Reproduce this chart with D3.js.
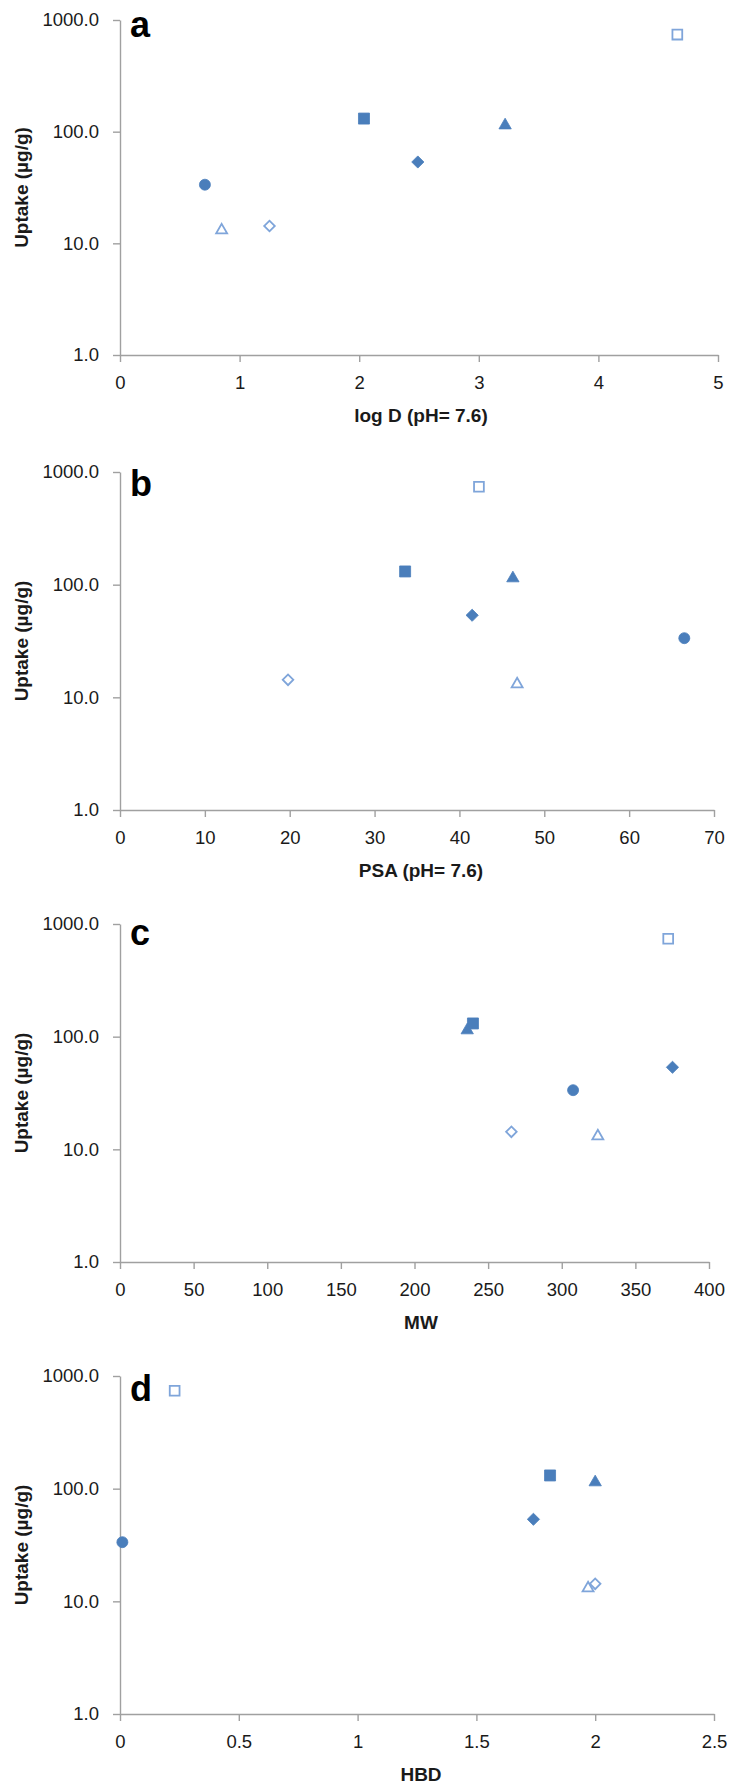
<!DOCTYPE html>
<html>
<head>
<meta charset="utf-8">
<script src="https://cdn.jsdelivr.net/npm/d3@7"></script>
<style>
  html, body { margin: 0; padding: 0; background: #ffffff; }
  svg { display: block; }
</style>
</head>
<body>
<script>
// ---------------- DATA ----------------
const compounds = ["circle", "openTriangle", "openDiamond", "filledSquare", "filledDiamond", "filledTriangle", "openSquare"];
const uptake = [33.5, 13.1, 14.3, 131, 53.5, 114, 740];
const logD   = [0.71, 0.85, 1.25, 2.04, 2.49, 3.22, 4.66];
const psa    = [66.5, 46.8, 19.8, 33.6, 41.5, 46.3, 42.3];
const mw     = [307.7, 324.5, 265.8, 239.7, 375.2, 235.8, 372.3];
const hbd    = [0.01, 1.97, 2.0, 1.81, 1.74, 2.0, 0.23];

const panelLetters = ["a", "b", "c", "d"];
const xTitles = ["log D (pH= 7.6)", "PSA (pH= 7.6)", "MW", "HBD"];
const xDomains = [[0, 5], [0, 70], [0, 400], [0, 2.5]];
const xTickValues = [
  [0, 1, 2, 3, 4, 5],
  [0, 10, 20, 30, 40, 50, 60, 70],
  [0, 50, 100, 150, 200, 250, 300, 350, 400],
  [0, 0.5, 1, 1.5, 2, 2.5]
];
const yTickValues = [1, 10, 100, 1000];
const yTitle = "Uptake (\u00b5g/g)";
const xSeries = [logD, psa, mw, hbd];

// ---------------- LAYOUT ----------------
const W = 741, H = 1786;
const layout = [
  { top: 20,  bottom: 355,  left: 120, right: 718, labelDy: 17 },
  { top: 472, bottom: 810,  left: 120, right: 714, labelDy: 24 },
  { top: 924, bottom: 1262, left: 120, right: 709, labelDy: 21 },
  { top: 1376, bottom: 1714, left: 120, right: 714, labelDy: 25 }
];
const filledColor = "#4a7ebb";
const openColor = "#7fa5da";
const axisColor = "#a0a0a0";
const textColor = "#1a1a1a";

const svg = d3.select("body").append("svg")
  .attr("width", W).attr("height", H)
  .attr("viewBox", `0 0 ${W} ${H}`);

const markerDef = {
  circle:         { type: d3.symbolCircle,   size: 95,  filled: true,  rot: 0 },
  filledSquare:   { type: d3.symbolSquare,   size: 121, filled: true,  rot: 0 },
  filledDiamond:  { type: d3.symbolSquare,   size: 74,  filled: true,  rot: 45 },
  filledTriangle: { type: d3.symbolTriangle, size: 66,  filled: true,  rot: 0 },
  openSquare:     { type: d3.symbolSquare,   size: 96,  filled: false, rot: 0 },
  openDiamond:    { type: d3.symbolSquare,   size: 56,  filled: false, rot: 45 },
  openTriangle:   { type: d3.symbolTriangle, size: 52,  filled: false, rot: 0 }
};

layout.forEach((L, i) => {
  const g = svg.append("g");
  const x = d3.scaleLinear().domain(xDomains[i]).range([L.left, L.right]);
  const y = d3.scaleLog().domain([1, 1000]).range([L.bottom, L.top]);

  // y axis
  const yAxis = d3.axisLeft(y).tickValues(yTickValues)
    .tickFormat(d3.format(".1f")).tickSizeInner(7).tickSizeOuter(0).tickPadding(14);
  const gy = g.append("g").attr("transform", `translate(${L.left},0)`).call(yAxis);
  gy.select(".domain").attr("stroke", axisColor).attr("stroke-width", 1.4);
  gy.selectAll(".tick line").attr("stroke", axisColor).attr("stroke-width", 1.4);
  gy.selectAll(".tick text")
    .attr("fill", textColor)
    .style("font-family", "'Liberation Sans', Arial, sans-serif")
    .style("font-size", "18.5px");

  // x axis
  const xAxis = d3.axisBottom(x).tickValues(xTickValues[i])
    .tickFormat(d3.format("~g")).tickSizeInner(7).tickSizeOuter(0).tickPadding(14);
  const gx = g.append("g").attr("transform", `translate(0,${L.bottom})`).call(xAxis);
  gx.select(".domain").attr("stroke", axisColor).attr("stroke-width", 1.4);
  gx.selectAll(".tick line").attr("stroke", axisColor).attr("stroke-width", 1.4);
  gx.selectAll(".tick text")
    .attr("fill", textColor)
    .style("font-family", "'Liberation Sans', Arial, sans-serif")
    .style("font-size", "18.5px");

  // y title
  g.append("text")
    .attr("transform", `translate(28,${(L.top + L.bottom) / 2}) rotate(-90)`)
    .attr("text-anchor", "middle")
    .attr("fill", textColor)
    .style("font-family", "'Liberation Sans', Arial, sans-serif")
    .style("font-weight", "bold")
    .style("font-size", "19px")
    .text(yTitle);

  // x title
  g.append("text")
    .attr("x", 421).attr("y", L.bottom + 67)
    .attr("text-anchor", "middle")
    .attr("fill", textColor)
    .style("font-family", "'Liberation Sans', Arial, sans-serif")
    .style("font-weight", "bold")
    .style("font-size", "19px")
    .text(xTitles[i]);

  // panel letter
  g.append("text")
    .attr("x", 130).attr("y", L.top + L.labelDy)
    .attr("fill", "#000")
    .style("font-family", "'Liberation Sans', Arial, sans-serif")
    .style("font-weight", "bold")
    .style("font-size", "36px")
    .text(panelLetters[i]);

  // points
  const pts = compounds.map((c, k) => ({ c, xv: xSeries[i][k], yv: uptake[k] }));
  g.append("g").selectAll("path").data(pts).join("path")
    .attr("transform", d => `translate(${x(d.xv)},${y(d.yv)}) rotate(${markerDef[d.c].rot})`)
    .attr("d", d => d3.symbol().type(markerDef[d.c].type).size(markerDef[d.c].size)())
    .attr("fill", d => markerDef[d.c].filled ? filledColor : "#ffffff")
    .attr("stroke", d => markerDef[d.c].filled ? filledColor : openColor)
    .attr("stroke-width", d => markerDef[d.c].filled ? 0.8 : 1.8);
});
</script>
</body>
</html>
